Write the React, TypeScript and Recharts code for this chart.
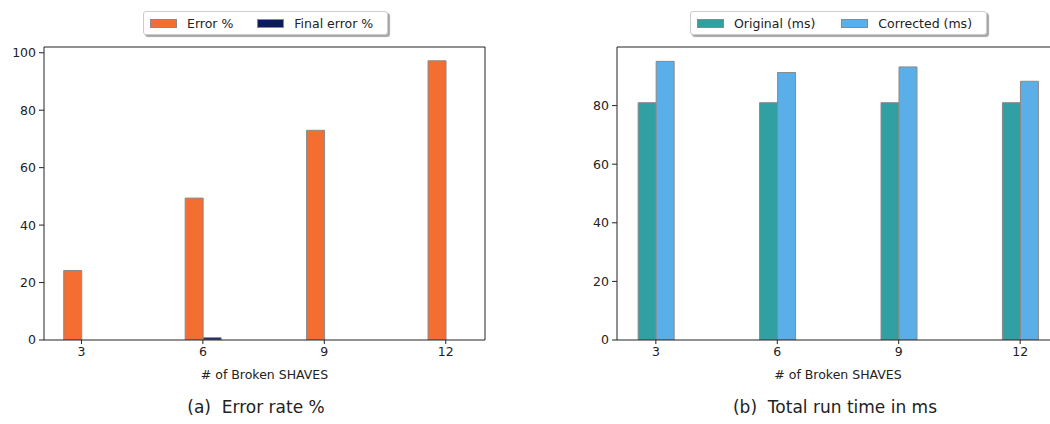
import React from 'react';
import { BarChart, Bar, XAxis, YAxis, ReferenceLine } from 'recharts';

const shaves = [3, 6, 9, 12];
const errorPct = [24.2, 49.4, 73, 97.2];
const finalErrorPct = [0, 0.8, 0, 0];
const originalMs = [81, 81, 81, 81];
const correctedMs = [95.1, 91.3, 93.2, 88.3];

const errorTicks = [0, 20, 40, 60, 80, 100];
const timeTicks = [0, 20, 40, 60, 80];

const errorData = shaves.map((s, i) => ({ shaves: s, error: errorPct[i], finalError: finalErrorPct[i] }));
const timeData = shaves.map((s, i) => ({ shaves: s, original: originalMs[i], corrected: correctedMs[i] }));

const FONT = '"DejaVu Sans", Verdana, sans-serif';
const tickStyle = { fontSize: 12.5, fill: '#222', fontFamily: FONT };
const SPINE = '#222';
const EDGE = '#8a8a8a';

function LegendBox({ items, left, width, gap }: { items: { label: string; color: string }[]; left: number; width: number; gap: number }) {
    return (
        <div style={{
            position: 'absolute', left, top: 11, width, height: 24, boxSizing: 'border-box',
            border: '1px solid #ccc', borderRadius: 3, background: '#fff',
            boxShadow: '2px 2px 1px rgba(0,0,0,0.35)', display: 'flex', alignItems: 'center',
            fontFamily: FONT, fontSize: 12.5, color: '#222', paddingLeft: 6, whiteSpace: 'nowrap',
        }}>
            {items.map((it) => (
                <div key={it.label} style={{ display: 'flex', alignItems: 'center', marginRight: gap, flexShrink: 0 }}>
                    <span style={{ display: 'inline-block', width: 27, height: 9, background: it.color, border: `1px solid ${EDGE}`, boxSizing: 'border-box', marginRight: 10, flexShrink: 0 }} />
                    <span>{it.label}</span>
                </div>
            ))}
        </div>
    );
}

function Caption({ text, center }: { text: string; center: number }) {
    return (
        <div style={{
            position: 'absolute', left: center - 200, width: 400, top: 397, textAlign: 'center',
            fontFamily: FONT, fontSize: 17, color: '#222', whiteSpace: 'pre',
        }}>{text}</div>
    );
}

export default function App() {
    return (
        <div style={{ position: 'absolute', left: 0, top: 0, width: 1050, height: 424, overflow: 'hidden', background: '#fff' }}>
            <div style={{ position: 'absolute', left: 0, top: 0 }}>
                <BarChart width={500} height={390} data={errorData} margin={{ top: 47, right: 15, left: 0, bottom: 10 }} barGap={0}>
                    <XAxis dataKey="shaves" type="number" domain={[2.075, 12.97]} ticks={shaves} allowDataOverflow
                        height={40} tickSize={4} tickMargin={3} tick={tickStyle} stroke={SPINE}
                        label={{ value: '# of Broken SHAVES', position: 'insideBottom', offset: 1, style: { fontSize: 12.5, fill: '#222', fontFamily: FONT } }} />
                    <YAxis domain={[0, 102]} ticks={errorTicks} allowDataOverflow width={44} tickSize={5} tickMargin={3} tick={tickStyle} stroke={SPINE} />
                    <ReferenceLine y={102} stroke={SPINE} />
                    <ReferenceLine x={12.97} stroke={SPINE} />
                    <Bar dataKey="error" name="Error %" fill="#F46E32" stroke={EDGE} strokeWidth={1} barSize={18} isAnimationActive={false} />
                    <Bar dataKey="finalError" name="Final error %" fill="#0C1A5E" stroke={EDGE} strokeWidth={1} barSize={18} isAnimationActive={false} />
                </BarChart>
            </div>
            <div style={{ position: 'absolute', left: 573, top: 0 }}>
                <BarChart width={501} height={390} data={timeData} margin={{ top: 47, right: 15, left: 0, bottom: 10 }} barGap={0}>
                    <XAxis dataKey="shaves" type="number" domain={[2.04, 12.96]} ticks={shaves} allowDataOverflow
                        height={40} tickSize={4} tickMargin={3} tick={tickStyle} stroke={SPINE}
                        label={{ value: '# of Broken SHAVES', position: 'insideBottom', offset: 1, style: { fontSize: 12.5, fill: '#222', fontFamily: FONT } }} />
                    <YAxis domain={[0, 100]} ticks={timeTicks} allowDataOverflow width={44} tickSize={5} tickMargin={3} tick={tickStyle} stroke={SPINE} />
                    <ReferenceLine y={100} stroke={SPINE} />
                    <Bar dataKey="original" name="Original (ms)" fill="#31A0A3" stroke={EDGE} strokeWidth={1} barSize={18} isAnimationActive={false} />
                    <Bar dataKey="corrected" name="Corrected (ms)" fill="#5BAFE8" stroke={EDGE} strokeWidth={1} barSize={18} isAnimationActive={false} />
                </BarChart>
            </div>
            <LegendBox left={143} width={245} gap={24} items={[{ label: 'Error %', color: '#F46E32' }, { label: 'Final error %', color: '#0C1A5E' }]} />
            <LegendBox left={690} width={297} gap={26} items={[{ label: 'Original (ms)', color: '#31A0A3' }, { label: 'Corrected (ms)', color: '#5BAFE8' }]} />
            <Caption text={'(a)  Error rate %'} center={256} />
            <Caption text={'(b)  Total run time in ms'} center={835} />
        </div>
    );
}
